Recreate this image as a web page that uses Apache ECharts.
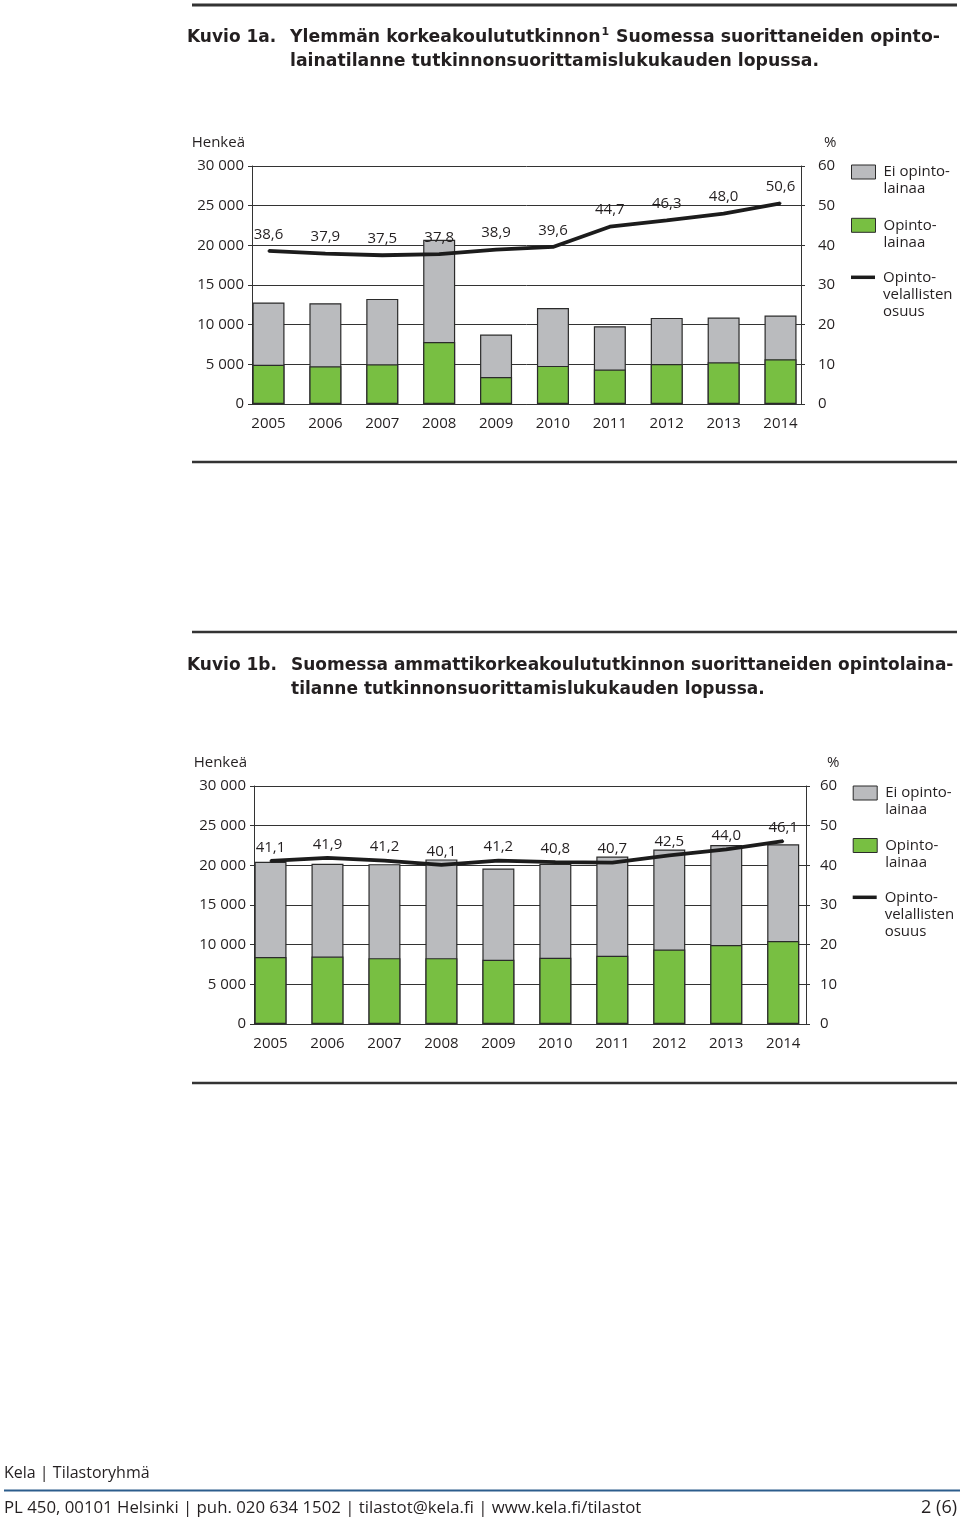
<!DOCTYPE html>
<html>
<head>
<meta charset="utf-8">
<script src="https://cdn.jsdelivr.net/npm/echarts@6/dist/echarts.min.js"></script>
<style>
html,body{margin:0;padding:0;background:#fff;}
#chart{width:960px;height:1520px;}
</style>
</head>
<body>
<div id="chart"></div>
<script>
// ---------- data ----------
const years = ['2005','2006','2007','2008','2009','2010','2011','2012','2013','2014'];

// Kuvio 1a – ylempi korkeakoulututkinto (henkeä / %)
const aNoLoan = [7850, 7950, 8250, 12900, 5350, 7300, 5450, 5800, 5650, 5500];
const aLoan   = [4950, 4750, 5000, 7800, 3400, 4800, 4350, 5050, 5250, 5650];
const aShare  = [38.6, 37.9, 37.5, 37.8, 38.9, 39.6, 44.7, 46.3, 48.0, 50.6];

// Kuvio 1b – ammattikorkeakoulututkinto (henkeä / %)
const bNoLoan = [12000, 11700, 11850, 12450, 11500, 11850, 12500, 12600, 12600, 12200];
const bLoan   = [8450, 8500, 8300, 8300, 8100, 8350, 8600, 9400, 9950, 10450];
const bShare  = [41.1, 41.9, 41.2, 40.1, 41.2, 40.8, 40.7, 42.5, 44.0, 46.1];

const countMax = 30000, countStep = 5000;
const pctMax = 60, pctStep = 10;

const seriesNames = ['Ei opintolainaa', 'Opintolainaa', 'Opintovelallisten osuus'];
const legendLines = {
  'Ei opintolainaa': ['Ei opinto-', 'lainaa'],
  'Opintolainaa': ['Opinto-', 'lainaa'],
  'Opintovelallisten osuus': ['Opinto-', 'velallisten', 'osuus']
};

// ---------- style ----------
const FONT = "'Open Sans', 'Noto Sans', sans-serif";
const TFONT = "'DejaVu Sans', 'Open Sans', sans-serif";
const TXT = '#231f20';
const AX = '#333333';
const GRAY = '#babbbe';
const GREEN = '#78bf42';
const BORDER = '#2b2b2b';
const LINE = '#1c1c1c';
const LH = 17;

function thousands(v) { return String(v).replace(/\B(?=(\d{3})+(?!\d))/g, ' '); }
function pct(v) { return v.toFixed(1).replace('.', ','); }
// blank lines above so the first text line sits level with the legend icon
function legendText(name) {
  const lines = legendLines[name];
  return new Array(lines.length - 1).fill('').concat(lines).join('\n');
}

const layouts = [
  { grid: {left: 252, top: 166, width: 549, height: 238}, xmin: -0.29, xmax: 9.36,
    rightMargin: 17, pctPad: 23, labelDist: 8, legendLeft: 851, legendCenters: [172, 225.3, 277.3] },
  { grid: {left: 254, top: 786, width: 552, height: 238}, xmin: -0.29, xmax: 9.40,
    rightMargin: 14, pctPad: 21, labelDist: 5, legendLeft: 852.7, legendCenters: [793, 845.5, 897.3] }
];
const datasets = [
  {noLoan: aNoLoan, loan: aLoan, share: aShare},
  {noLoan: bNoLoan, loan: bLoan, share: bShare}
];

const option = {
  animation: false,
  backgroundColor: '#fff',
  textStyle: {fontFamily: FONT},
  grid: [], xAxis: [], yAxis: [], series: [], legend: [],
  graphic: []
};

layouts.forEach((L, k) => {
  const D = datasets[k];
  option.grid.push(L.grid);
  option.xAxis.push({
    gridIndex: k, type: 'value', min: L.xmin, max: L.xmax,
    axisLine: {show: true, onZero: false, lineStyle: {color: AX, width: 1}},
    axisTick: {show: false},
    splitLine: {show: false},
    axisLabel: {
      customValues: years.map((y, i) => i),
      formatter: v => years[Math.round(v)],
      margin: 12, fontSize: 15, color: TXT, fontFamily: FONT
    }
  });
  option.yAxis.push({
    gridIndex: k, type: 'value', min: 0, max: countMax, interval: countStep, position: 'left',
    name: 'Henkeä', nameLocation: 'end', nameGap: 23,
    nameTextStyle: {align: 'right', verticalAlign: 'middle', padding: [0, 7, 0, 0], fontSize: 15, color: TXT, fontFamily: FONT},
    axisLine: {show: true, onZero: false, lineStyle: {color: AX, width: 1}},
    axisTick: {show: true, length: 4, lineStyle: {color: AX}},
    splitLine: {show: true, lineStyle: {color: AX, width: 1}},
    axisLabel: {formatter: thousands, margin: 8, fontSize: 15, color: TXT, fontFamily: FONT}
  });
  option.yAxis.push({
    gridIndex: k, type: 'value', min: 0, max: pctMax, interval: pctStep, position: 'right',
    name: '%', nameLocation: 'end', nameGap: 23,
    nameTextStyle: {align: 'left', verticalAlign: 'middle', padding: [0, 0, 0, L.pctPad], fontSize: 15, color: TXT, fontFamily: FONT},
    axisLine: {show: true, onZero: false, lineStyle: {color: AX, width: 1}},
    axisTick: {show: true, length: 4, lineStyle: {color: AX}},
    splitLine: {show: false},
    axisLabel: {margin: L.rightMargin, fontSize: 15, color: TXT, fontFamily: FONT}
  });
  const yi = k * 2;
  // gray column = whole group (no loan on top of loan), green column = loan part drawn over it
  option.series.push({
    name: seriesNames[0], type: 'bar', xAxisIndex: k, yAxisIndex: yi,
    barWidth: 32, barGap: '-100%', z: 2,
    itemStyle: {color: GRAY, borderColor: BORDER, borderWidth: 1.2},
    data: D.noLoan.map((v, i) => [i, v + D.loan[i]])
  });
  option.series.push({
    name: seriesNames[1], type: 'bar', xAxisIndex: k, yAxisIndex: yi,
    barWidth: 32, barGap: '-100%', z: 3,
    itemStyle: {color: GREEN, borderColor: BORDER, borderWidth: 1.2},
    data: D.loan.map((v, i) => [i, v])
  });
  option.series.push({
    name: seriesNames[2], type: 'line', xAxisIndex: k, yAxisIndex: yi + 1, z: 5,
    symbol: 'circle', symbolSize: 2, itemStyle: {color: LINE},
    lineStyle: {color: LINE, width: 3.8},
    label: {show: true, position: 'top', distance: L.labelDist, fontSize: 15, color: TXT, fontFamily: FONT,
            formatter: p => pct(p.value[1])},
    data: D.share.map((v, i) => [i, v])
  });

  // legends: one component per item for exact placement
  const defs = [
    {name: seriesNames[0], h: 14, style: {color: GRAY, borderColor: BORDER, borderWidth: 1}},
    {name: seriesNames[1], h: 14, style: {color: GREEN, borderColor: BORDER, borderWidth: 1}},
    {name: seriesNames[2], h: 3.5, style: {color: LINE, borderWidth: 0}}
  ];
  defs.forEach((d, j) => {
    const n = legendLines[d.name].length;
    const m = 2 * n - 1;
    const center = L.legendCenters[j];
    option.legend.push({
      orient: 'vertical', left: L.legendLeft, top: center - m * LH / 2, padding: 0,
      itemWidth: 24, itemHeight: d.h,
      formatter: legendText,
      textStyle: {fontFamily: FONT, fontSize: 15, color: TXT, lineHeight: LH, padding: [0, 0, 0, 3]},
      data: [{name: d.name, icon: 'rect', itemStyle: d.style}]
    });
  });
});

// ---------- page text and rules ----------
function rule(x1, x2, y, w, c) {
  return {type: 'line', silent: true, shape: {x1, y1: y, x2, y2: y}, style: {stroke: c || '#333', lineWidth: w}};
}
function txt(x, y, text, opts) {
  return {type: 'text', silent: true, x, y,
    style: Object.assign({text, fill: TXT, font: '16.8px ' + FONT, verticalAlign: 'middle', align: 'left'}, opts || {})};
}
const TA = 'bold 17.3px ' + TFONT;
const TB = 'bold 17px ' + TFONT;
option.graphic = [
  rule(192, 957, 5, 3),
  txt(187, 38, 'Kuvio 1a.', {font: TB}),
  {type: 'text', silent: true, x: 290, y: 38,
   style: {text: '{b|Ylemmän korkeakoulututkinnon}{s|1}{b| Suomessa suorittaneiden opinto-}',
           verticalAlign: 'middle', align: 'left',
           rich: {b: {font: TA, fill: TXT, lineHeight: 24},
                  s: {font: 'bold 11px ' + TFONT, fill: TXT, verticalAlign: 'top', lineHeight: 24, padding: [1, 1, 0, 1]}}}},
  txt(290, 62, 'lainatilanne tutkinnonsuorittamislukukauden lopussa.', {font: TA}),
  rule(192, 957, 462, 2.5),
  rule(192, 957, 632, 2.5),
  txt(187, 666, 'Kuvio 1b.', {font: TB}),
  txt(291, 666, 'Suomessa ammattikorkeakoulututkinnon suorittaneiden opintolaina-', {font: TB}),
  txt(291, 690, 'tilanne tutkinnonsuorittamislukukauden lopussa.', {font: TB}),
  rule(192, 957, 1083, 2.5),
  txt(4, 1473, 'Kela | Tilastoryhmä', {font: '16px ' + FONT}),
  rule(4, 960, 1490.5, 2, '#2c5d8c'),
  txt(4, 1508, 'PL 450, 00101 Helsinki | puh. 020 634 1502 | tilastot@kela.fi | www.kela.fi/tilastot'),
  txt(957, 1508, '2 (6)', {font: '18px ' + FONT, align: 'right'})
];

const chart = echarts.init(document.getElementById('chart'), null, {renderer: 'canvas'});
chart.setOption(option);
</script>
</body>
</html>
